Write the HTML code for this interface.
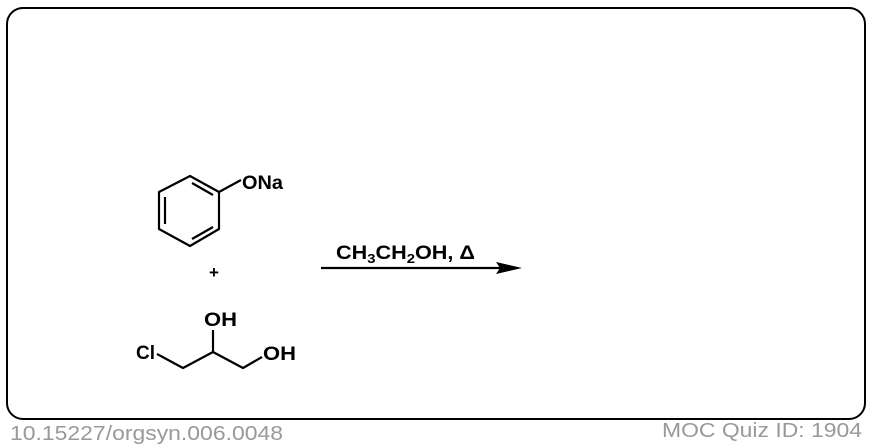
<!DOCTYPE html>
<html><head><meta charset="utf-8"><style>html,body{margin:0;padding:0;background:#fff}svg{display:block}</style></head>
<body>
<svg width="872" height="448" viewBox="0 0 872 448" xmlns="http://www.w3.org/2000/svg" font-family="Liberation Sans, Arial, sans-serif">
<rect x="7" y="8" width="858" height="411" rx="16" ry="16" fill="#fff" stroke="#000" stroke-width="2"/>
<g stroke="#000" stroke-width="2.2" fill="none" stroke-linejoin="round">
<polygon points="190,176 219,192 219,229 190,246 159,229 159,192"/>
<line x1="165" y1="197" x2="165" y2="224"/>
<line x1="192" y1="183" x2="213" y2="195"/>
<line x1="192" y1="239" x2="213" y2="227"/>
<line x1="219" y1="192" x2="241" y2="180"/>
<polyline points="157,354 183,368 213,352 243,368 262,357"/>
<line x1="213" y1="352" x2="213" y2="330"/>
<line x1="321" y1="268" x2="500" y2="268"/>
</g>
<polygon points="522,268 496,262 500,268 496,274" fill="#000"/>
<g font-weight="bold" font-size="19" fill="#000">
<text x="242" y="189" textLength="41" lengthAdjust="spacingAndGlyphs">ONa</text>
<text x="204" y="326" textLength="33" lengthAdjust="spacingAndGlyphs">OH</text>
<text x="136" y="359" textLength="19" lengthAdjust="spacingAndGlyphs">Cl</text>
<text x="263" y="360" textLength="33" lengthAdjust="spacingAndGlyphs">OH</text>
<text x="209" y="278" font-size="17">+</text>
<text x="336" y="259" font-size="19" textLength="139" lengthAdjust="spacingAndGlyphs">CH<tspan font-size="13" dy="4">3</tspan><tspan dy="-4">CH</tspan><tspan font-size="13" dy="4">2</tspan><tspan dy="-4">OH, Δ</tspan></text>
</g>
<g fill="#999" font-size="20">
<text x="10" y="440" textLength="273" lengthAdjust="spacingAndGlyphs">10.15227/orgsyn.006.0048</text>
<text x="662" y="437" textLength="200" lengthAdjust="spacingAndGlyphs">MOC Quiz ID: 1904</text>
</g>
</svg>
</body></html>
